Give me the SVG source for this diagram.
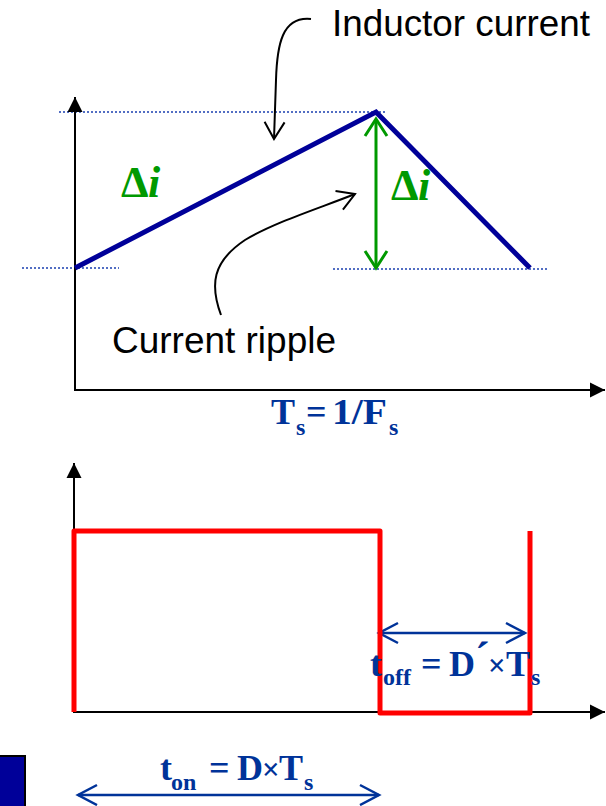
<svg xmlns="http://www.w3.org/2000/svg" width="606" height="806" viewBox="0 0 606 806">
<defs>
<style>
.axis{fill:none;stroke:#000;stroke-width:2}
.dot{fill:none;stroke:#1a3fb0;stroke-width:1.6;stroke-dasharray:2 2}
.lbl{font-family:"Liberation Sans",Arial,sans-serif;font-size:37px;fill:#000}
.eq{font-family:"Liberation Serif","Times New Roman",serif;font-weight:bold;font-size:36px;fill:#003399}
.sub{font-size:24px}
.x{font-size:31px}
.di{font-family:"Liberation Serif","Times New Roman",serif;font-weight:bold;font-size:44px;fill:#009900}
.callout{fill:none;stroke:#000;stroke-width:2}
.dim{fill:none;stroke:#003399;stroke-width:2.5}
</style>
<marker id="axArrow" markerUnits="userSpaceOnUse" markerWidth="16" markerHeight="16" viewBox="0 0 16 16" refX="15" refY="8" orient="auto-start-reverse" overflow="visible">
<path d="M0,0.5 L15,8 L0,15.5 z" fill="#000"/>
</marker>
<marker id="openBlack" markerUnits="userSpaceOnUse" markerWidth="20" markerHeight="22" viewBox="0 0 20 22" refX="18" refY="11" orient="auto-start-reverse" overflow="visible">
<path d="M1,1 L18,11 L1,21" fill="none" stroke="#000" stroke-width="2"/>
</marker>
<marker id="openGreen" markerUnits="userSpaceOnUse" markerWidth="20" markerHeight="24" viewBox="0 0 20 24" refX="18" refY="12" orient="auto-start-reverse" overflow="visible">
<path d="M1,1 L18,12 L1,23" fill="none" stroke="#009900" stroke-width="3"/>
</marker>
<marker id="openBlue" markerUnits="userSpaceOnUse" markerWidth="22" markerHeight="22" viewBox="0 0 22 22" refX="20" refY="11" orient="auto-start-reverse" overflow="visible">
<path d="M1,1 L20,11 L1,21" fill="none" stroke="#003399" stroke-width="2.5"/>
</marker>
</defs>
<rect width="606" height="806" fill="#fff"/>

<g id="current-chart">
<path class="dot" d="M59,112 H386 M22,268 H119 M333,269 H548"/>
<path id="axes1" class="axis" d="M75,97 V390 H605" marker-start="url(#axArrow)" marker-end="url(#axArrow)"/>
<polyline id="inductor-wave" points="75,268 376,112 530,268" fill="none" stroke="#000099" stroke-width="5" stroke-linejoin="miter"/>
<text class="di" x="121" y="197">Δ<tspan x="148" font-style="italic">i</tspan></text>
<text class="di" x="391" y="200">Δ<tspan x="418" font-style="italic">i</tspan></text>
<text class="lbl" x="332" y="36" textLength="258" lengthAdjust="spacingAndGlyphs">Inductor current</text>
<text class="lbl" x="112" y="353" textLength="224" lengthAdjust="spacingAndGlyphs">Current ripple</text>
<text class="eq" x="271" y="424">T<tspan class="sub" x="296" y="435">s</tspan><tspan x="306" y="424">=</tspan><tspan x="332" y="424" textLength="55" lengthAdjust="spacingAndGlyphs">1/F</tspan><tspan class="sub" x="389" y="435">s</tspan></text>
</g>

<g id="connectors">
<line x1="376" y1="119" x2="376" y2="268" stroke="#009900" stroke-width="3" marker-start="url(#openGreen)" marker-end="url(#openGreen)"/>
<path class="callout" d="M311,19 C282,16 277,45 276,80 L274,139" marker-end="url(#openBlack)"/>
<path class="callout" d="M221,315 C210,285 212,262 245,240 C275,222 320,208 355,194" marker-end="url(#openBlack)"/>
<line class="dim" x1="379" y1="633" x2="525" y2="633" marker-start="url(#openBlue)" marker-end="url(#openBlue)"/>
<line class="dim" x1="78" y1="795" x2="379" y2="795" marker-start="url(#openBlue)" marker-end="url(#openBlue)"/>
</g>

<g id="switch-chart">
<path id="axes2" class="axis" d="M74,463 V712 H605" marker-start="url(#axArrow)" marker-end="url(#axArrow)"/>
<path id="switch-wave" d="M74,712 V531 H380 V713 H530 V531" fill="none" stroke="#ff0000" stroke-width="5" stroke-linejoin="round"/>
<text class="eq" x="370" y="676">t<tspan class="sub" x="383" y="685">off</tspan><tspan x="421" y="676">=</tspan><tspan x="449" y="676">D</tspan><tspan x="475" y="672" font-size="44">´</tspan><tspan class="x" x="488" y="676">×</tspan><tspan x="506" y="676">T</tspan><tspan class="sub" x="531" y="685">s</tspan></text>
<text class="eq" x="160" y="780">t<tspan class="sub" x="171" y="790">on</tspan><tspan x="209" y="780">=</tspan><tspan x="237" y="780">D</tspan><tspan class="x" x="262" y="780">×</tspan><tspan x="279" y="780">T</tspan><tspan class="sub" x="304" y="790">s</tspan></text>
</g>

<rect id="legend-box" x="-2" y="756" width="27" height="54" fill="#000099" stroke="#000" stroke-width="2"/>
</svg>
